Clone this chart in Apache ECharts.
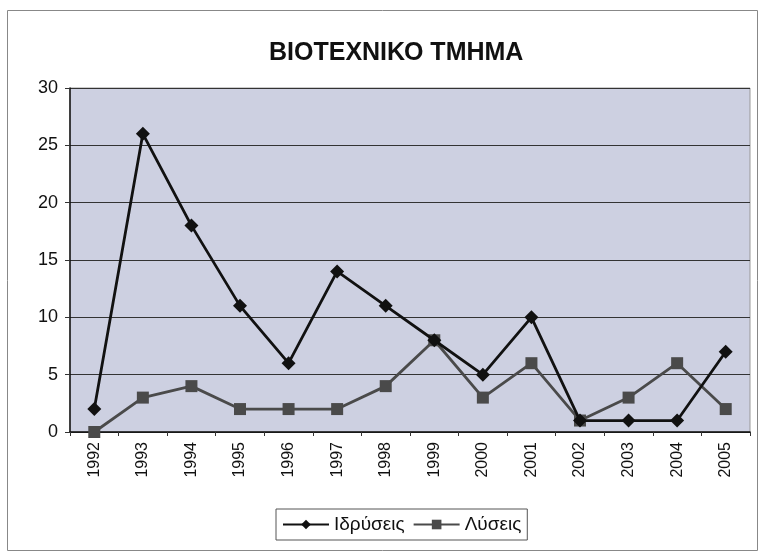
<!DOCTYPE html>
<html><head><meta charset="utf-8">
<script src="https://cdn.jsdelivr.net/npm/echarts@6/dist/echarts.min.js"></script>
<style>html,body{margin:0;padding:0;background:#fff}#c{width:759px;height:551px}</style>
</head><body><div id="c"></div>
<script>
var years = ['1992','1993','1994','1995','1996','1997','1998','1999','2000','2001','2002','2003','2004','2005'];
var idryseis = [2,26,18,11,6,14,11,8,5,10,1,1,1,7];
var lyseis = [0,3,4,2,2,2,4,8,3,6,1,3,6,2];
var yTicks = [0,5,10,15,20,25,30];

var chart = echarts.init(document.getElementById('c'));
chart.setOption({
  animation:false,
  backgroundColor:'#fff',
  title:{text:'ΒΙΟΤΕΧΝΙΚΟ ΤΜΗΜΑ',left:264,top:36,
    textStyle:{fontFamily:'Liberation Sans',fontSize:25,fontWeight:'bold',color:'#111'}},
  graphic:[{type:'rect',shape:{x:7.5,y:10.5,width:750,height:540},style:{fill:'none',stroke:'#888',lineWidth:1}}],
  grid:{left:70,right:9,top:88,bottom:119,show:true,backgroundColor:'#cdd0e1',borderColor:'#999',borderWidth:1},
  legend:{top:509,left:276,itemWidth:46,itemHeight:12,itemGap:8,
    backgroundColor:'#fff',borderColor:'#555',borderWidth:1,padding:[6,6],
    textStyle:{fontFamily:'Liberation Sans',fontSize:19,color:'#111'},
    data:['Ιδρύσεις','Λύσεις']},
  xAxis:{type:'category',data:years,boundaryGap:true,
    axisLine:{lineStyle:{color:'#111',width:1.5}},
    axisTick:{show:true,length:4,lineStyle:{color:'#333'}},
    axisLabel:{rotate:90,fontFamily:'Liberation Sans',fontSize:16,color:'#111',margin:10}},
  yAxis:{type:'value',min:0,max:30,interval:5,
    axisLine:{show:true,lineStyle:{color:'#111',width:1.5}},
    axisTick:{show:true,length:5,lineStyle:{color:'#333'}},
    axisLabel:{fontFamily:'Liberation Sans',fontSize:18,color:'#111',margin:12,
      formatter:function(v){return yTicks.indexOf(v)>=0?String(v):'';}},
    splitLine:{show:true,lineStyle:{color:'#333',width:1}}},
  series:[
    {name:'Ιδρύσεις',type:'line',data:idryseis,symbol:'diamond',symbolSize:14,
      lineStyle:{color:'#111',width:2.8},itemStyle:{color:'#111'},z:3},
    {name:'Λύσεις',type:'line',data:lyseis,symbol:'rect',symbolSize:12,
      lineStyle:{color:'#4a4a4a',width:2.8},itemStyle:{color:'#4a4a4a'},z:2}
  ]
});
</script></body></html>
